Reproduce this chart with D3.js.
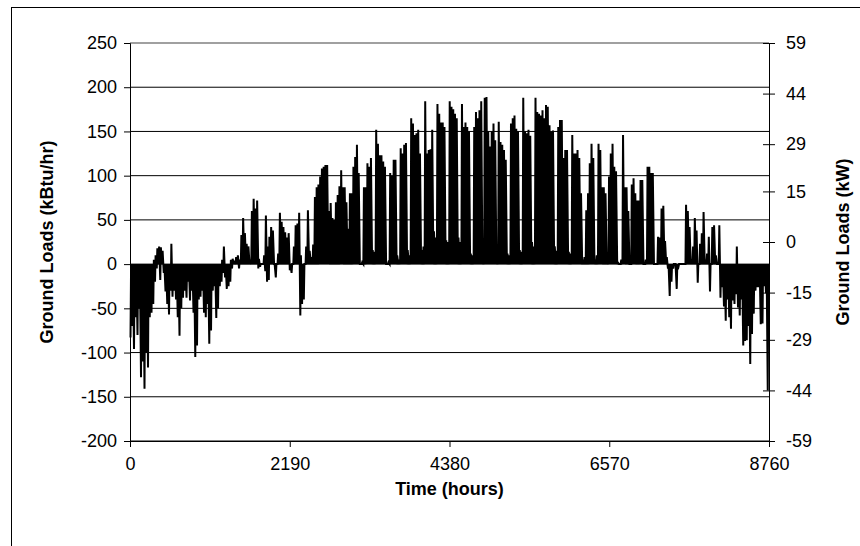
<!DOCTYPE html>
<html>
<head>
<meta charset="utf-8">
<script src="https://cdn.jsdelivr.net/npm/d3@7"></script>
<style>
  html, body { margin: 0; padding: 0; background: #fff; }
  svg { display: block; font-family: "Liberation Sans", Arial, sans-serif; }
</style>
</head>
<body>
<svg id="chart" width="860" height="546"></svg>
<script>
// daily extremes of the hourly ground load, kBtu/hr (heat extraction < 0, rejection > 0)
const heatPeak = [
  -83, -70, -96, -60, -80, -50, -128, -110, -141, -100,
  -117, -60, -55, -45, -20, -5, 0, -18, 0, -10,
  -31, -45, -57, -30, -37, -30, -40, -60, -81, -50,
  -38, -30, -38, -20, -41, -30, -55, -105, -92, -40,
  -37, -30, -55, -60, -45, -90, -75, -30, -25, -61,
  -50, -25, -20, -10, -15, -28, -25, -20, -5, 0,
  0, 0, -5, 0, 0, 0, 0, 0, 0, 0,
  0, 0, 0, -5, -3, 0, 0, -8, -20, -18,
  0, 0, 0, -15, 0, 0, 0, 0, 0, 0,
  0, -7, -10, 0, 0, 0, 0, -58, -45, -40,
  0, 0, 0, 0, 0, 0, 0, 0, 0, 0,
  0, 0, 0, 0, 0, 0, 0, 0, 0, 0,
  0, 0, 0, 0, 0, 0, 0, 0, 0, 0,
  0, 0, 0, 0, 0, 0, 0, 0, 0, 0,
  0, 0, 0, 0, 0, 0, 0, 0, 0, 0,
  0, 0, 0, 0, 0, 0, 0, 0, 0, 0,
  0, 0, 0, 0, 0, 0, 0, 0, 0, 0,
  0, 0, 0, 0, 0, 0, 0, 0, 0, 0,
  0, 0, 0, 0, 0, 0, 0, 0, 0, 0,
  0, 0, 0, 0, 0, 0, 0, 0, 0, 0,
  0, 0, 0, 0, 0, 0, 0, 0, 0, 0,
  0, 0, 0, 0, 0, 0, 0, 0, 0, 0,
  0, 0, 0, 0, 0, 0, 0, 0, 0, 0,
  0, 0, 0, 0, 0, 0, 0, 0, 0, 0,
  0, 0, 0, 0, 0, 0, 0, 0, 0, 0,
  0, 0, 0, 0, 0, 0, 0, 0, 0, 0,
  0, 0, 0, 0, 0, 0, 0, 0, 0, 0,
  0, 0, 0, 0, 0, 0, 0, 0, 0, 0,
  0, 0, 0, 0, 0, 0, 0, 0, 0, 0,
  0, 0, 0, 0, 0, 0, 0, 0, 0, 0,
  0, 0, 0, 0, 0, 0, 0, -5, -36, -20,
  -5, 0, -28, -3, 0, 0, 0, 0, 0, 0,
  0, 0, 0, 0, -21, 0, 0, 0, 0, 0,
  0, -31, 0, 0, 0, 0, 0, -38, -26, -48,
  -64, -40, -60, -73, -41, -45, -34, -49, -58, -40,
  -92, -87, -86, -70, -113, -79, -56, -30, -26, -26,
  -68, -67, -25, -33, -143
];

const coolPeak = [
  0, 0, 0, 0, 0, 0, 0, 0, 0, 0,
  0, 0, 0, 5, 10, 18, 20, 19, 15, 0,
  0, 0, 0, 23, 0, 0, 0, 0, 0, 0,
  0, 0, 0, 0, 0, 0, 0, 0, 0, 0,
  0, 0, 0, 0, 0, 0, 0, 0, 0, 0,
  0, 0, 5, 20, 0, 0, 0, 5, 6, 4,
  8, 10, 5, 33, 52, 35, 23, 20, 3, 60,
  74, 63, 72, 6, 0, 0, 10, 55, 20, 31,
  42, 38, 0, 0, 12, 58, 48, 42, 36, 30,
  35, 0, 0, 20, 44, 46, 58, 10, 0, 0,
  20, 61, 15, 8, 22, 76, 87, 90, 99, 108,
  110, 112, 112, 60, 69, 52, 50, 70, 78, 88,
  106, 87, 87, 70, 40, 80, 80, 110, 121, 135,
  103, 0, 2, 87, 87, 114, 110, 120, 16, 14,
  152, 136, 123, 123, 116, 110, 0, 2, 103, 100,
  118, 118, 10, 5, 131, 125, 135, 137, 16, 10,
  165, 159, 146, 148, 152, 125, 16, 20, 184, 125,
  129, 130, 152, 37, 30, 181, 170, 160, 160, 155,
  27, 25, 184, 178, 175, 170, 165, 30, 25, 181,
  155, 160, 155, 150, 12, 10, 155, 172, 165, 174,
  184, 20, 188, 189, 150, 133, 150, 159, 140, 15,
  161, 138, 135, 129, 118, 12, 10, 159, 165, 168,
  153, 150, 16, 14, 188, 150, 148, 152, 145, 25,
  20, 188, 172, 170, 168, 174, 165, 180, 178, 157,
  150, 151, 20, 15, 155, 163, 163, 120, 129, 129,
  14, 12, 146, 125, 125, 129, 120, 80, 5, 8,
  61, 80, 114, 136, 120, 5, 10, 136, 129, 87,
  87, 80, 3, 99, 125, 136, 110, 105, 2, 0,
  5, 146, 87, 87, 60, 0, 90, 97, 80, 72,
  72, 95, 95, 0, 5, 110, 110, 103, 103, 0,
  0, 31, 30, 63, 66, 26, 8, 0, 0, 0,
  0, 0, 0, 0, 0, 0, 0, 67, 60, 42,
  5, 20, 52, 38, 0, 23, 35, 59, 5, 12,
  31, 0, 42, 44, 10, 0, 44, 0, 0, 0,
  0, 0, 0, 0, 0, 0, 20, 0, 0, 0,
  0, 0, 0, 0, 0, 0, 0, 0, 0, 0,
  0, 0, 0, 0, 0
];

const hourTicks = [0, 2190, 4380, 6570, 8760];
const loadTicks = [-200, -150, -100, -50, 0, 50, 100, 150, 200, 250];
const kwTicks = [-59, -44, -29, -15, 0, 15, 29, 44, 59];

const width = 860;
const height = 546;
const margin = { top: 43, right: 91, bottom: 105, left: 130 };
const plotRight = width - margin.right;
const plotBottom = height - margin.bottom;

const svg = d3.select("#chart");

// chart area frame (runs off the right/bottom edge)
svg.append("rect")
  .attr("x", 11.5)
  .attr("y", 7.5)
  .attr("width", 900)
  .attr("height", 600)
  .attr("fill", "none")
  .attr("stroke", "#000")
  .attr("stroke-width", 1);

const x = d3.scaleLinear().domain([0, 8760]).range([margin.left, plotRight]);
const y = d3.scaleLinear().domain([-200, 250]).range([plotBottom, margin.top]);
const yKw = d3.scaleLinear().domain([-59, 59]).range([plotBottom, margin.top]);

// gridlines
svg.append("g")
  .selectAll("line")
  .data(loadTicks)
  .join("line")
  .attr("x1", margin.left)
  .attr("x2", plotRight)
  .attr("y1", d => y(d))
  .attr("y2", d => y(d))
  .attr("stroke", d => d === 250 ? "#808080" : "#000")
  .attr("stroke-width", d => d === 250 ? 1.5 : 1);

// two points per day: morning heating extreme, afternoon cooling extreme
const points = [];
heatPeak.forEach((h, d) => {
  points.push([d * 24 + 7, h]);
  points.push([d * 24 + 15, coolPeak[d]]);
});

const line = d3.line()
  .x(d => x(d[0]))
  .y(d => y(d[1]));

svg.append("path")
  .datum(points)
  .attr("d", line)
  .attr("fill", "none")
  .attr("stroke", "#000")
  .attr("stroke-width", 2)
  .attr("stroke-linejoin", "miter");

const tickFont = "18px";
const plain = d => String(d);

// left axis
const left = svg.append("g")
  .attr("transform", `translate(${margin.left},0)`)
  .call(d3.axisLeft(y).tickValues(loadTicks).tickFormat(plain).tickSize(6).tickPadding(7));
left.select(".domain").attr("stroke", "#000");
left.selectAll("text").style("font-size", tickFont).attr("fill", "#000");

// right axis, ticks cross the axis line
const right = svg.append("g")
  .attr("transform", `translate(${plotRight},0)`)
  .call(d3.axisRight(yKw).tickValues(kwTicks).tickFormat(plain).tickSize(6).tickPadding(11));
right.selectAll(".tick line").attr("x1", -6).attr("x2", 6);
right.selectAll("text").style("font-size", tickFont).attr("fill", "#000");

// bottom axis
const bottom = svg.append("g")
  .attr("transform", `translate(0,${plotBottom})`)
  .call(d3.axisBottom(x).tickValues(hourTicks).tickFormat(plain).tickSize(6).tickPadding(10));
bottom.selectAll("text").style("font-size", tickFont).attr("fill", "#000");

// axis titles
svg.append("text")
  .attr("transform", `translate(53,${(margin.top + plotBottom) / 2}) rotate(-90)`)
  .attr("text-anchor", "middle")
  .style("font-size", "18px")
  .style("font-weight", "bold")
  .text("Ground Loads (kBtu/hr)");

svg.append("text")
  .attr("transform", `translate(849,${(margin.top + plotBottom) / 2}) rotate(-90)`)
  .attr("text-anchor", "middle")
  .style("font-size", "18px")
  .style("font-weight", "bold")
  .text("Ground Loads (kW)");

svg.append("text")
  .attr("x", (margin.left + plotRight) / 2)
  .attr("y", 495)
  .attr("text-anchor", "middle")
  .style("font-size", "18px")
  .style("font-weight", "bold")
  .text("Time (hours)");
</script>
</body>
</html>
